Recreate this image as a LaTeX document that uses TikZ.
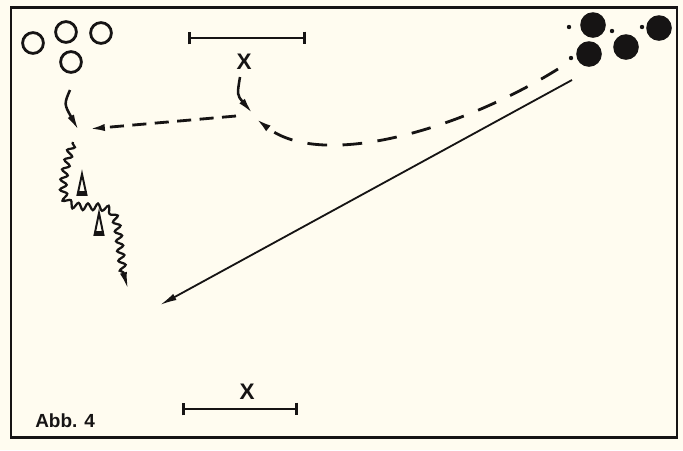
\documentclass[tikz,border=0pt]{standalone}
\usepackage{fontspec}
\newfontfamily\helv{Liberation Sans}
\usetikzlibrary{arrows.meta,decorations.pathmorphing}
\definecolor{paper}{RGB}{255,252,240}
\definecolor{ink}{RGB}{22,20,20}
\begin{document}
\begin{tikzpicture}[x=0.025cm,y=-0.025cm,
  opencirc/.style={circle,draw=ink,line width=2pt,minimum size=0.52cm,inner sep=0pt},
  player/.style={circle,fill=ink,minimum size=0.64cm,inner sep=0pt},
  dotm/.style={circle,fill=ink,minimum size=0.11cm,inner sep=0pt},
  lbl/.style={text=ink,font=\helv\bfseries\fontsize{16}{16}\selectfont,inner sep=0pt},
  frame/.style={draw=ink,line width=2pt},
  scalebar/.style={draw=ink,line width=1.8pt,{Bar[width=9pt]}-{Bar[width=9pt]}},
  tipL/.style={-{Latex[length=12pt,width=5pt]}},
  run/.style={draw=ink,line width=1.8pt,tipL},
  pass/.style={draw=ink,line width=2pt,dash pattern=on 14pt off 11pt,tipL},
  passb/.style={draw=ink,line width=2pt,dash pattern=on 10pt off 6pt,tipL},
  shot/.style={draw=ink,line width=1.3pt,tipL},
  dribble/.style={draw=ink,line width=1.6pt,tipL,decorate,
    decoration={snake,amplitude=2.4pt,segment length=7pt,pre length=1pt,post length=11pt}},
  cone/.style={draw=ink,fill=paper,line width=1.4pt,line join=miter}
]
\fill[paper] (0,0) rectangle (683,450);
\draw[frame] (11,7.5) rectangle (677,437.5);

% attackers (open circles)
\node[opencirc] (o1) at (33,43) {};
\node[opencirc] (o2) at (66,32) {};
\node[opencirc] (o3) at (101,33) {};
\node[opencirc] (o4) at (71,62) {};

% defenders (black)
\node[player] (p1) at (593,25) {};
\node[player] (p2) at (589,54) {};
\node[player] (p3) at (626,47) {};
\node[player] (p4) at (659,28) {};
\node[dotm] (d1) at (569,27) {};
\node[dotm] (d2) at (571,58) {};
\node[dotm] (d3) at (612,31) {};
\node[dotm] (d4) at (642,27) {};

% scale bars and X labels
\coordinate (s1a) at (188,38); \coordinate (s1b) at (306,38);
\draw[scalebar] (s1a) -- (s1b);
\node[lbl] (x1) at (244,62) {X};
\coordinate (s2a) at (182,409); \coordinate (s2b) at (298,409);
\draw[scalebar] (s2a) -- (s2b);
\node[lbl] (x2) at (247,392) {X};

\node[text=ink,font=\helv\bfseries\fontsize{13.5}{13.5}\selectfont,anchor=base west,inner sep=0pt] (cap) at (35,427) {Abb. 4};

% runs
\coordinate (xr0) at (240,77); \coordinate (xr1) at (253,114);
\draw[run] (xr0) .. controls (237,95) .. (xr1);
\coordinate (or0) at (70,90); \coordinate (or1) at (79,131);
\draw[run] (or0) .. controls (64,104) .. (or1);

% passes
\coordinate (b0) at (558,69); \coordinate (b1) at (255,118);
\draw[pass] (b0) .. controls (460,130) and (322,170) .. (b1);
\coordinate (c0) at (236,116); \coordinate (c1) at (88,129);
\draw[passb] (c0) -- (c1);

% shot
\coordinate (sh0) at (572,80); \coordinate (sh1) at (160,305);
\draw[shot] (sh0) -- (sh1);

% dribble
\coordinate (w0) at (73,142); \coordinate (w1) at (128,289);
\draw[dribble] (w0) .. controls (65,168) and (58,196) .. (72,202)
  .. controls (86,207) and (100,201) .. (111,208)
  .. controls (121,222) and (117,258) .. (w1);

% cones
\filldraw[cone] (82,174) -- (86.5,195) -- (77.5,195) -- cycle;
\fill[ink] (77.5,191) rectangle (86.5,196);
\filldraw[cone] (99,213) -- (103.5,235) -- (94.5,235) -- cycle;
\fill[ink] (94.5,231) rectangle (103.5,236);
\end{tikzpicture}
\end{document}
